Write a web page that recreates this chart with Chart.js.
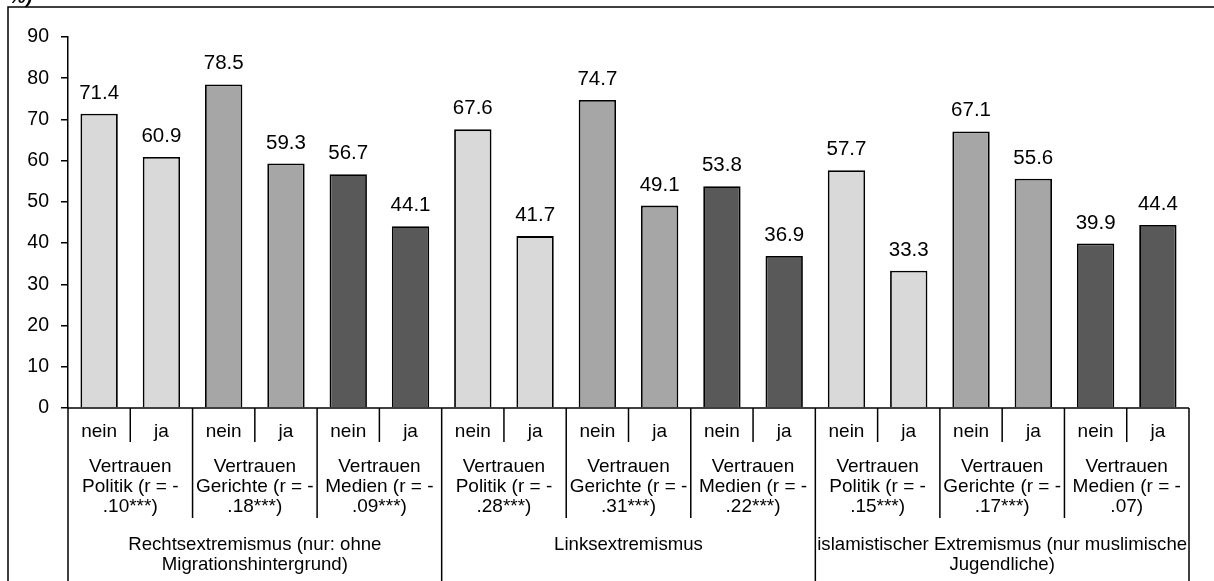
<!DOCTYPE html>
<html>
<head>
<meta charset="utf-8">
<script src="https://cdn.jsdelivr.net/npm/chart.js@4"></script>
<style>
html,body{margin:0;padding:0;background:#fff;}
#wrap{width:1214px;height:581px;position:relative;}
</style>
</head>
<body>
<div id="wrap"><canvas id="c" width="1214" height="581"></canvas></div>
<script>
// ---- data ----
const answers = ["nein","ja","nein","ja","nein","ja","nein","ja","nein","ja","nein","ja","nein","ja","nein","ja","nein","ja"];
const values = [71.4,60.9,78.5,59.3,56.7,44.1, 67.6,41.7,74.7,49.1,53.8,36.9, 57.7,33.3,67.1,55.6,39.9,44.4];
const subgroups = [
  ["Vertrauen","Politik (r = -",".10***)"],
  ["Vertrauen","Gerichte (r = -",".18***)"],
  ["Vertrauen","Medien (r = -",".09***)"],
  ["Vertrauen","Politik (r = -",".28***)"],
  ["Vertrauen","Gerichte (r = -",".31***)"],
  ["Vertrauen","Medien (r = -",".22***)"],
  ["Vertrauen","Politik (r = -",".15***)"],
  ["Vertrauen","Gerichte (r = -",".17***)"],
  ["Vertrauen","Medien (r = -",".07)"]
];
const groups = [
  ["Rechtsextremismus (nur: ohne","Migrationshintergrund)"],
  ["Linksextremismus"],
  ["islamistischer Extremismus (nur muslimische","Jugendliche)"]
];
const yTicks = [0,10,20,30,40,50,60,70,80,90];
const shades = ["#D9D9D9","#D9D9D9","#A6A6A6","#A6A6A6","#595959","#595959"];

const FAM = "'Liberation Sans', Arial, sans-serif";
const FONT = "19px " + FAM;
const GROUP_FONT = "18.6px " + FAM;
const LABEL_FONT = "20.5px " + FAM;
const barColors = values.map((v,i)=>shades[i%6]);

const multiAxis = {
  id:'multiAxis',
  afterDraw(chart){
    const ctx = chart.ctx, ca = chart.chartArea, xs = chart.scales.x;
    const n = values.length;
    const cw = (ca.right-ca.left)/n;
    ctx.save();
    ctx.strokeStyle = '#000';
    ctx.lineWidth = 1.5;
    // frame
    ctx.beginPath();
    ctx.moveTo(8,581); ctx.lineTo(8,7); ctx.lineTo(1214,7);
    ctx.stroke();
    // cut-off title remnant
    ctx.fillStyle = '#000';
    ctx.font = "italic bold 19px " + FAM;
    ctx.textAlign = 'left'; ctx.textBaseline = 'alphabetic';
    ctx.fillText("%)", 9, 3);
    // x axis line
    const b = ca.bottom;
    ctx.beginPath();
    ctx.moveTo(ca.left, b); ctx.lineTo(ca.right, b);
    ctx.stroke();
    // separators
    for(let i=0;i<=n;i++){
      const x = (i<n ? xs.getPixelForValue(i)-cw/2 : xs.getPixelForValue(n-1)+cw/2);
      let len;
      if(i%6===0) len = 581-b;
      else if(i%2===0) len = 110;
      else len = 34;
      ctx.beginPath();
      ctx.moveTo(x, b); ctx.lineTo(x, b+len);
      ctx.stroke();
    }
    ctx.font = FONT;
    ctx.textAlign = 'center';
    ctx.fillStyle = '#000';
    // row 1
    for(let i=0;i<n;i++){
      ctx.fillText(answers[i], xs.getPixelForValue(i), b+29);
    }
    // row 2
    for(let s=0;s<subgroups.length;s++){
      const cx = (xs.getPixelForValue(2*s)+xs.getPixelForValue(2*s+1))/2;
      subgroups[s].forEach((t,k)=>ctx.fillText(t, cx, b+64+20*k));
    }
    // row 3
    ctx.font = GROUP_FONT;
    for(let g=0;g<groups.length;g++){
      const cx = (xs.getPixelForValue(6*g)+xs.getPixelForValue(6*g+5))/2;
      groups[g].forEach((t,k)=>ctx.fillText(t, cx, b+142+20*k));
    }
    // data labels
    ctx.font = LABEL_FONT;
    const meta = chart.getDatasetMeta(0);
    meta.data.forEach((bar,i)=>{
      ctx.fillText(values[i].toFixed(1), bar.x, bar.y-15);
    });
    ctx.restore();
  }
};

new Chart(document.getElementById('c'), {
  type:'bar',
  data:{
    labels: answers,
    datasets:[{
      data: values,
      backgroundColor: barColors,
      borderColor:'#000',
      borderWidth:1.8,
      barPercentage:0.6,
      categoryPercentage:1.0
    }]
  },
  options:{
    responsive:false,
    animation:false,
    devicePixelRatio:1,
    layout:{padding:{left:0,right:25,top:37,bottom:173}},
    plugins:{legend:{display:false},tooltip:{enabled:false}},
    scales:{
      x:{display:false},
      y:{
        min:0,max:90,
        afterFit(s){ s.width = 68; },
        afterBuildTicks(s){ s.ticks = yTicks.map(v=>({value:v})); },
        border:{display:true,color:'#000',width:1.5},
        grid:{drawOnChartArea:false,drawTicks:true,tickLength:7,color:'#000',lineWidth:1.5},
        ticks:{color:'#000',font:{family:FAM,size:19.5},padding:12}
      }
    }
  },
  plugins:[multiAxis]
});
</script>
</body>
</html>
